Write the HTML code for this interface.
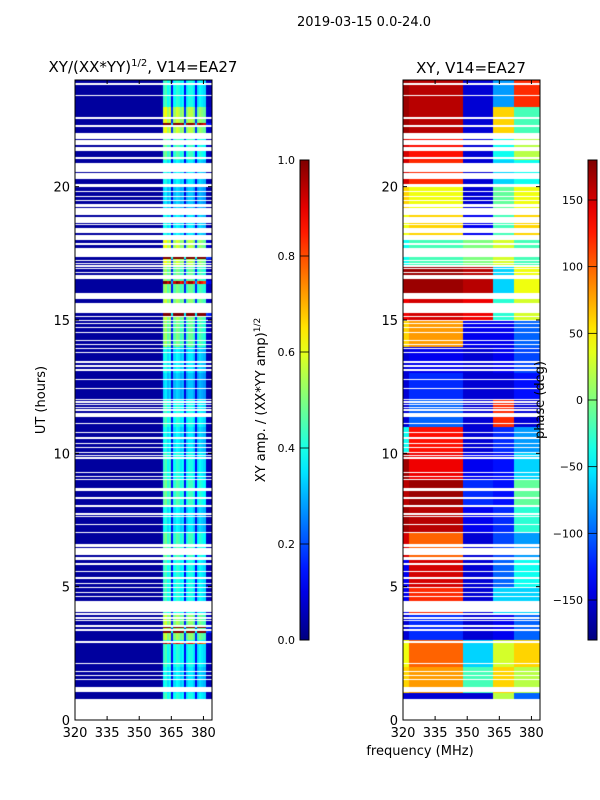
<!DOCTYPE html>
<html><head><meta charset="utf-8"><style>
body{margin:0;background:#fff;}
#root{position:relative;width:600px;height:800px;font-family:"DejaVu Sans","Liberation Sans",sans-serif;color:#000;}
canvas{position:absolute;}
svg{position:absolute;left:0;top:0;}
</style></head><body>
<div id="root">
<canvas id="c1" width="137" height="640" style="left:75px;top:80px"></canvas>
<canvas id="c2" width="137" height="640" style="left:403px;top:80px"></canvas>
<svg id="ov" width="600" height="800"></svg>
</div>
<script>
// ---- data ----
const timeBinHours = 0.05;
const freqMin = 320, freqMax = 384;
const gapsStart = [0,1.05,1.5,1.65,1.8,2.1,2.9,3.35,3.5,3.7,3.8,3.95,4.05,4.6,4.75,4.95,5.1,5.3,5.55,5.8,6.0,6.2,6.5,7.0,7.3,7.6,7.7,8.0,8.3,8.6,9.0,9.1,9.25,9.8,9.9,10.0,10.2,10.35,10.55,10.75,11.1,11.35,11.6,11.7,11.8,11.9,12.0,12.4,12.75,13.1,13.25,13.4,13.75,13.9,14.05,14.2,14.5,14.7,14.85,14.95,15.1,15.25,15.8,16.55,16.75,16.9,17.0,17.1,17.2,17.35,17.8,18.0,18.25,18.55,18.65,18.95,19.25,19.45,19.6,19.8,20.0,20.3,20.55,21.05,21.35,21.55,21.8,22.25,22.55,23.4,23.8];
const gapsEnd   = [0.8,1.23,1.55,1.7,1.85,2.15,2.95,3.4,3.55,3.75,3.85,4.0,4.45,4.65,4.8,5.0,5.15,5.35,5.6,5.9,6.1,6.45,6.6,7.05,7.35,7.65,7.75,8.05,8.35,8.7,9.05,9.15,9.3,9.85,9.95,10.05,10.25,10.4,10.6,10.8,11.15,11.5,11.65,11.75,11.85,11.95,12.05,12.45,12.8,13.15,13.3,13.45,13.8,13.95,14.1,14.25,14.55,14.75,14.9,15.0,15.15,15.65,16.0,16.7,16.8,16.95,17.05,17.15,17.25,17.7,17.9,18.2,18.45,18.6,18.85,19.2,19.35,19.5,19.65,19.85,20.1,20.5,20.9,21.1,21.5,21.75,22.0,22.3,22.6,23.45,23.9];
// amplitude column profile per 1 MHz (320..383)
const ampProfile = [0.03,0.03,0.03,0.03,0.03,0.03,0.03,0.03,0.03,0.03,0.03,0.03,0.03,0.03,0.03,0.03,0.03,0.03,0.03,0.03,0.03,0.03,0.03,0.03,0.03,0.03,0.03,0.03,0.03,0.03,0.03,0.03,0.03,0.03,0.03,0.03,0.03,0.03,0.03,0.03,0.05,0.42,0.45,0.38,0.42,0.12,0.38,0.42,0.4,0.36,0.38,0.12,0.36,0.4,0.4,0.36,0.12,0.34,0.38,0.36,0.34,0.06,0.05,0.05];
const ampHourGain = [1,0.9,1.0,1.3,1.0,1.0,1.1,0.9,1.1,1.0,0.9,1.0,0.8,0.9,1.2,1.3,1.2,1.4,0.9,0.8,0.9,1.1,1.4,1.0];
const hotRowStart = [2.85,3.25,3.45,15.15,17.3,22.3,16.35,21.9];
const hotRowGain  = [2.2,2.4,2.4,2.3,2.4,1.9,2.0,1.9];
// phase per hour in freq groups
const phaseGroupEdges = [320,323,348,362,372,384];
const phaseA = [-150,60,40,-150,-140,-140,150,170,160,170,-40,-150,-150,-150,60,140,170,-40,40,60,150,150,170,170];
const phaseB = [-150,80,100,-120,120,150,100,160,170,140,130,-100,-120,-140,80,150,170,-20,60,40,120,130,160,160];
const phaseC = [-150,-20,-60,-150,-150,-150,-150,-140,-120,-140,-150,-150,-150,-150,-140,140,160,0,-140,-150,-150,-150,-150,-150];
const phaseD = [20,60,30,-140,-60,-100,-110,-120,-130,-130,-120,120,-150,-140,-140,-30,-60,30,-20,-10,-60,-40,60,-80];
const phaseE = [-100,20,60,-100,-60,-40,-80,-30,-10,-60,-80,-150,-130,-110,-100,30,40,-20,60,40,-40,20,-20,120];
const ampTicks = [0.0,0.2,0.4,0.6,0.8,1.0];
const phaseTicks = [-150,-100,-50,0,50,100,150];
const hourTicks = [0,5,10,15,20];
const freqTicks = [320,335,350,365,380];

// ---- helpers ----
function jet(v){v=Math.max(0,Math.min(1,v));
 const r=Math.max(0,Math.min(1,1.5-Math.abs(4*v-3)));
 const g=Math.max(0,Math.min(1,1.5-Math.abs(4*v-2)));
 const b=Math.max(0,Math.min(1,1.5-Math.abs(4*v-1)));
 return `rgb(${r*255|0},${g*255|0},${b*255|0})`;}
const W=137,H=640;
const xScale=f=>(f-freqMin)/(freqMax-freqMin)*W;
const yScale=h=>H-h/24*H;
function isGap(h){for(let i=0;i<gapsStart.length;i++){if(h>=gapsStart[i]-1e-6&&h<gapsEnd[i]-1e-6)return true;}return false;}
function hotGain(h){for(let i=0;i<hotRowStart.length;i++){if(h>=hotRowStart[i]-1e-6&&h<hotRowStart[i]+0.1-1e-6)return hotRowGain[i];}return 1;}
const nRows=Math.round(24/timeBinHours);
function phaseAt(hr,f){const arrs=[phaseA,phaseB,phaseC,phaseD,phaseE];
 for(let g=0;g<5;g++){if(f<phaseGroupEdges[g+1])return arrs[g][hr];}return phaseE[hr];}

const ctx1=document.getElementById('c1').getContext('2d');
const ctx2=document.getElementById('c2').getContext('2d');
for(let r=0;r<nRows;r++){
 const h=r*timeBinHours; if(isGap(h))continue;
 const hr=Math.min(23,Math.floor(h));
 const y0=Math.round(yScale(h+timeBinHours)), y1=Math.round(yScale(h));
 if(y1<=y0)continue;
 const hg=hotGain(h);
 for(let k=0;k<ampProfile.length;k++){
  const f=freqMin+k;
  const x0=Math.round(xScale(f)), x1=Math.round(xScale(f+1));
  const a=k<41?ampProfile[k]:ampProfile[k]*ampHourGain[hr]*hg;
  ctx1.fillStyle=jet(a);
  ctx1.fillRect(x0,y0,x1-x0,y1-y0);
  const p=phaseAt(hr,f);
  ctx2.fillStyle=jet((p+180)/360);
  ctx2.fillRect(x0,y0,x1-x0,y1-y0);
 }
}

// ---- overlay ----
const NS='http://www.w3.org/2000/svg';
const svg=document.getElementById('ov');
function mk(tag,attrs,txt){const e=document.createElementNS(NS,tag);for(const k in attrs)e.setAttribute(k,attrs[k]);if(txt!==undefined)e.textContent=txt;svg.appendChild(e);return e;}
const defs=mk('defs',{});
const lg=document.createElementNS(NS,'linearGradient');lg.setAttribute('id','jetg');lg.setAttribute('x1','0');lg.setAttribute('y1','1');lg.setAttribute('x2','0');lg.setAttribute('y2','0');
for(let i=0;i<=20;i++){const s=document.createElementNS(NS,'stop');s.setAttribute('offset',i/20);s.setAttribute('stop-color',jet(i/20));lg.appendChild(s);}
defs.appendChild(lg);

let t;
t=mk('text',{x:364,y:26,'font-size':13,'text-anchor':'middle'},'2019-03-15 0.0-24.0');


function panel(x0,name){
 const fr=mk('rect',{x:x0,y:80,width:W,height:H,fill:'none',stroke:'#000','stroke-width':1});
 
 hourTicks.forEach(h=>{const y=80+yScale(h);
  mk('line',{x1:x0,x2:x0+4,y1:y,y2:y,stroke:'#000'});mk('line',{x1:x0+W,x2:x0+W-4,y1:y,y2:y,stroke:'#000'});
  const l=mk('text',{x:x0-5,y:y+5,'font-size':13,'text-anchor':'end'},h);
  });
 freqTicks.forEach(f=>{const x=x0+xScale(f);
  mk('line',{x1:x,x2:x,y1:80,y2:84,stroke:'#000'});mk('line',{x1:x,x2:x,y1:720,y2:716,stroke:'#000'});
  const l=mk('text',{x:x,y:737,'font-size':13,'text-anchor':'middle'},f);
  });
}
panel(75,'amplitude-panel');panel(403,'phase-panel');
t=mk('text',{x:143,y:72,'font-size':15,'text-anchor':'middle'});
t.innerHTML='XY/(XX*YY)<tspan font-size="10" dy="-6">1/2</tspan><tspan dy="6">, V14=EA27</tspan>';

t=mk('text',{x:471,y:73,'font-size':15,'text-anchor':'middle'},'XY, V14=EA27');

t=mk('text',{x:45,y:400,'font-size':13,'text-anchor':'middle',transform:'rotate(-90 45 400)'},'UT (hours)');

t=mk('text',{x:420,y:755,'font-size':13,'text-anchor':'middle'},'frequency (MHz)');


function cbar(x,name,ticks,vmin,vmax,fmt){
 const r=mk('rect',{x:x,y:160,width:9,height:480,fill:'url(#jetg)',stroke:'#000','stroke-width':1});
 
 ticks.forEach(v=>{const y=640-(v-vmin)/(vmax-vmin)*480;
  mk('line',{x1:x,x2:x+9,y1:y,y2:y,stroke:'#000','stroke-width':0.8});
  const l=mk('text',{x:x-5,y:y+4,'font-size':11,'text-anchor':'end'},fmt(v));
  });
}
cbar(300,'amplitude-colorbar',ampTicks,0,1,v=>v.toFixed(1));
cbar(588,'phase-colorbar',phaseTicks,-180,180,v=>v<0?'\u2212'+(-v):String(v));
t=mk('text',{x:265,y:400,'font-size':13,'text-anchor':'middle',transform:'rotate(-90 265 400)'});
t.innerHTML='XY amp. / (XX*YY amp)<tspan font-size="9" dy="-5">1/2</tspan>';

t=mk('text',{x:544,y:400,'font-size':13,'text-anchor':'middle',transform:'rotate(-90 544 400)'},'phase (deg)');

</script>
</body></html>
